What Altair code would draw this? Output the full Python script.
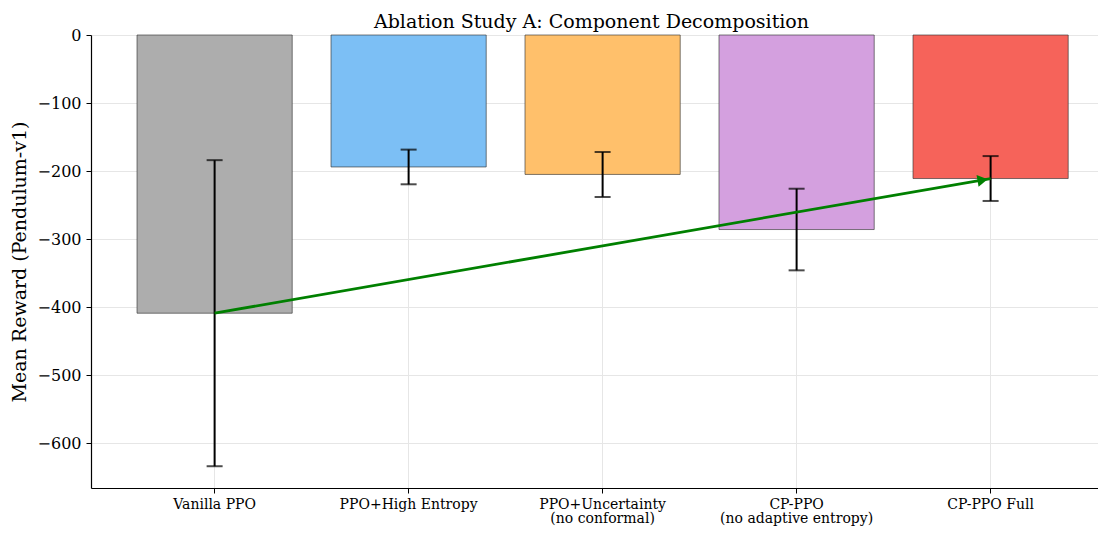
import altair as alt
import pandas as pd

title_text = "Ablation Study A: Component Decomposition"
methods = ["Vanilla PPO", "PPO+High Entropy", "PPO+Uncertainty|(no conformal)",
           "CP-PPO|(no adaptive entropy)", "CP-PPO Full"]
means = [-409, -194, -205, -286, -211]
stds = [225, 25.5, 33, 60, 33]
colors = ["#adadad", "#7cbff5", "#ffc06b", "#d4a0df", "#f6635a"]

df = pd.DataFrame({"method": methods, "mean": means, "std": stds, "color": colors})
df["lo"] = df["mean"] - df["std"]
df["hi"] = df["mean"] + df["std"]

arrow_df = df.iloc[[0, 4]][["method", "mean"]].reset_index(drop=True)
arrow_df["order"] = [0, 1]
head_df = df.iloc[[4]][["method", "mean"]]

FONT = "DejaVu Serif"
W, H = 1007, 453

xenc = alt.X(
    "method:N", sort=methods, title=None,
    scale=alt.Scale(paddingInner=0.2, paddingOuter=0.1954, align=0.607),
    axis=alt.Axis(labelExpr="split(datum.label, '|')", labelAngle=0, labelFontSize=14,
                  labelPadding=4, labelLineHeight=14.5, labelBaseline="top", grid=True),
)
yscale = alt.Scale(domain=[-666, 0], nice=False, zero=False)

bars = alt.Chart(df).mark_bar(stroke="#333333", strokeWidth=0.8, strokeOpacity=0.8).encode(
    x=xenc,
    y=alt.Y("mean:Q", scale=yscale, title="Mean Reward (Pendulum-v1)",
            axis=alt.Axis(values=[0, -100, -200, -300, -400, -500, -600], labelFontSize=16,
                          labelPadding=5, titleFontSize=19, titlePadding=8, grid=True)),
    y2=alt.datum(0),
    color=alt.Color("color:N", scale=None),
)

err = alt.Chart(df).mark_rule(color="black", strokeWidth=2).encode(
    x=alt.X("method:N", sort=methods), y="lo:Q", y2="hi:Q")
cap_lo = alt.Chart(df).mark_tick(color="black", size=16, thickness=2).encode(
    x=alt.X("method:N", sort=methods), y="lo:Q")
cap_hi = alt.Chart(df).mark_tick(color="black", size=16, thickness=2).encode(
    x=alt.X("method:N", sort=methods), y="hi:Q")

arrow_line = alt.Chart(arrow_df).mark_line(color="green", strokeWidth=2.8).encode(
    x=alt.X("method:N", sort=methods), y="mean:Q", order="order:Q")
arrow_head = alt.Chart(head_df).mark_point(
    shape="triangle-right", angle=350, filled=True, opacity=1, size=140, color="green",
    xOffset=-8, yOffset=1.5).encode(
    x=alt.X("method:N", sort=methods), y="mean:Q")

title_mark = alt.Chart(pd.DataFrame({"t": [title_text]})).mark_text(
    font=FONT, fontSize=19, color="black", align="center", baseline="alphabetic").encode(
    text="t:N", x=alt.value(W / 2 - 3), y=alt.value(-7))

chart = alt.layer(bars, err, cap_lo, cap_hi, arrow_line, arrow_head, title_mark).properties(
    width=W, height=H,
    autosize=alt.AutoSizeParams(type="none"),
    padding={"left": 83, "top": 27, "right": 0, "bottom": 43},
).configure_view(stroke=None).configure_axis(
    labelFont=FONT, titleFont=FONT, titleFontWeight="normal", labelColor="black",
    titleColor="black", domainColor="black", tickColor="black", tickSize=5,
    gridColor="#e6e6e6", gridWidth=1, domainWidth=1.2,
)

chart.save("out.html", embed_options={"renderer": "svg", "actions": False})
